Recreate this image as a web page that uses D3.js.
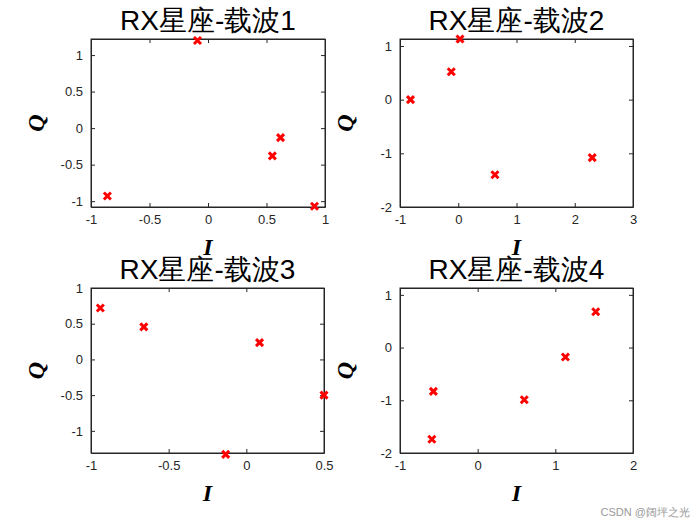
<!DOCTYPE html>
<html><head><meta charset="utf-8">
<script src="https://cdn.jsdelivr.net/npm/d3@7"></script>
<style>body{margin:0;background:#fff}text{font-family:"Liberation Sans",Arial,sans-serif}</style>
</head><body><svg id="chart" width="700" height="525"></svg>
<script>
const titles = ["RX星座-载波1", "RX星座-载波2", "RX星座-载波3", "RX星座-载波4"];
const iVals = [
  [-0.86, -0.09, 0.55, 0.62, 0.91],
  [-0.82, -0.12, 0.03, 0.63, 2.3],
  [-0.94, -0.66, 0.085, 0.5, -0.133],
  [-0.57, -0.59, 0.6, 1.13, 1.52]
];
const qVals = [
  [-0.93, 1.2, -0.38, -0.13, -1.07],
  [0.0, 0.52, 1.13, -1.4, -1.08],
  [0.72, 0.455, 0.235, -0.5, -1.33],
  [-0.83, -1.74, -0.99, -0.18, 0.68]
];
const xDomains = [[-1, 1], [-1, 3], [-1, 0.5], [-1, 2]];
const yDomains = [[-1.08, 1.22], [-2, 1.13], [-1.31, 1.0], [-2, 1.13]];
const xTicks = [[-1, -0.5, 0, 0.5, 1], [-1, 0, 1, 2, 3], [-1, -0.5, 0, 0.5], [-1, 0, 1, 2]];
const yTicks = [[-1, -0.5, 0, 0.5, 1], [-2, -1, 0, 1], [-1, -0.5, 0, 0.5, 1], [-2, -1, 0, 1]];

const boxes = [
  {x: 91, y: 39, w: 234, h: 168},
  {x: 400, y: 39, w: 233, h: 168},
  {x: 91, y: 288, w: 233, h: 165},
  {x: 400, y: 288, w: 233, h: 165}
];

const svg = d3.select("#chart");
const fmt = d => String(d);

boxes.forEach((b, k) => {
  const g = svg.append("g").attr("transform", "translate(" + b.x + "," + b.y + ")");
  const x = d3.scaleLinear().domain(xDomains[k]).range([0, b.w]);
  const y = d3.scaleLinear().domain(yDomains[k]).range([b.h, 0]);

  g.append("rect").attr("width", b.w).attr("height", b.h).attr("fill", "#fff");

  // axes, MATLAB style ticks inside
  const ax = [
    ["translate(0," + b.h + ")", d3.axisBottom(x).tickValues(xTicks[k]).tickFormat(fmt).tickSizeInner(-4).tickSizeOuter(0).tickPadding(8)],
    ["translate(0,0)", d3.axisTop(x).tickValues(xTicks[k]).tickFormat("").tickSizeInner(-4).tickSizeOuter(0)],
    ["translate(0,0)", d3.axisLeft(y).tickValues(yTicks[k]).tickFormat(fmt).tickSizeInner(-4).tickSizeOuter(0).tickPadding(8)],
    ["translate(" + b.w + ",0)", d3.axisRight(y).tickValues(yTicks[k]).tickFormat("").tickSizeInner(-4).tickSizeOuter(0)]
  ];
  ax.forEach(a => {
    const s = g.append("g").attr("transform", a[0]).call(a[1]);
    s.selectAll("path,line").attr("stroke", "#262626");
    s.selectAll("text").attr("fill", "#262626").style("font-size", "13px");
  });
  g.append("rect").attr("width", b.w).attr("height", b.h).attr("fill", "none").attr("stroke", "#262626");

  // markers
  const pts = iVals[k].map((v, i) => [v, qVals[k][i]]);
  g.selectAll("path.pt").data(pts).enter().append("path")
    .attr("class", "pt")
    .attr("d", d => {
      const cx = x(d[0]), cy = y(d[1]), r = 3.5;
      return "M" + (cx - r) + "," + (cy - r) + "L" + (cx + r) + "," + (cy + r) +
             "M" + (cx - r) + "," + (cy + r) + "L" + (cx + r) + "," + (cy - r);
    })
    .attr("stroke", "#f00").attr("stroke-width", 3);

  g.append("text").attr("x", b.w / 2).attr("y", -9).attr("text-anchor", "middle")
    .style("font-size", "28px").attr("fill", "#000").text(titles[k]);
  g.append("text").attr("x", b.w / 2).attr("y", b.h + 48).attr("text-anchor", "middle")
    .style("font-family", "'Liberation Serif','DejaVu Serif',serif").style("font-size", "24px")
    .style("font-weight", "bold").style("font-style", "italic").text("I");
  g.append("text").attr("transform", "translate(-47," + (b.h / 2) + ") rotate(-90)")
    .attr("text-anchor", "middle")
    .style("font-family", "'Liberation Serif','DejaVu Serif',serif").style("font-size", "24px")
    .style("font-weight", "bold").style("font-style", "italic").text("Q");
});

svg.append("text").attr("x", 690).attr("y", 516).attr("text-anchor", "end")
  .style("font-size", "11px").attr("fill", "#999").text("CSDN @阔坪之光");
</script></body></html>
